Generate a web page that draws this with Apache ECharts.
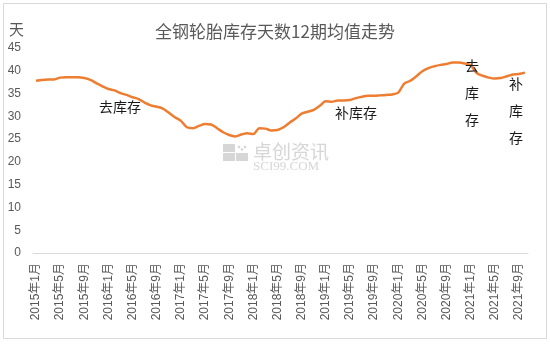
<!DOCTYPE html>
<html>
<head>
<meta charset="utf-8">
<script src="https://cdn.jsdelivr.net/npm/echarts@6/dist/echarts.min.js"></script>
<style>
  html, body { margin: 0; padding: 0; background: #fff; }
  #chart { width: 550px; height: 345px; }
</style>
</head>
<body>
<div id="chart"></div>
<script>
// Monthly categories, Jan 2015 – Oct 2021
const months = [];
for (let y = 2015; y <= 2021; y++) {
  for (let m = 1; m <= 12; m++) {
    if (y === 2021 && m > 10) break;
    months.push(y + '年' + m + '月');
  }
}

// 12-period moving average of all-steel tyre inventory days
const inventoryDays = [
  37.8, 38.0, 38.1, 38.1, 38.5, 38.6, 38.6, 38.6, 38.4, 38.0, 37.3, 36.6,
  36.0, 35.7, 35.1, 34.7, 34.2, 33.8, 33.0, 32.4, 32.1, 31.7, 30.8, 29.8,
  29.0, 27.6, 27.4, 27.9, 28.3, 28.2, 27.4, 26.5, 25.9, 25.6, 26.0, 26.3,
  26.1, 27.4, 27.3, 26.9, 27.0, 27.6, 28.6, 29.5, 30.6, 31.0, 31.4, 32.3,
  33.3, 33.2, 33.5, 33.5, 33.6, 34.0, 34.3, 34.5, 34.5, 34.6, 34.7, 34.8,
  35.2, 37.2, 37.8, 38.8, 39.9, 40.6, 41.0, 41.3, 41.5, 41.8, 41.8, 41.6,
  41.2, 39.5, 38.9, 38.5, 38.3, 38.4, 38.8, 39.2, 39.3, 39.6
];

// Y-axis scale
const yMin = 0, yMax = 45, yStep = 5;

const titleText = '全钢轮胎库存天数12期均值走势';
const unitText = '天';

const textColor = '#595959';
const cjkFont = '"Noto Sans CJK SC", "Noto Sans", sans-serif';

const chart = echarts.init(document.getElementById('chart'));

const note = (text, x, y) => ({
  type: 'text', left: x, top: y, z: 10,
  style: { text: text, fill: '#1a1a1a', font: '14px ' + cjkFont, lineHeight: 27 }
});

chart.setOption({
  animation: false,
  title: {
    text: titleText,
    left: 'center',
    top: 18,
    textStyle: { color: textColor, fontSize: 17, fontWeight: 'normal', fontFamily: cjkFont }
  },
  grid: { left: 33, right: 22, top: 48, bottom: 92 },
  xAxis: {
    type: 'category',
    data: months,
    boundaryGap: true,
    axisLine: { lineStyle: { color: '#d9d9d9', width: 1 } },
    axisTick: { interval: 3, length: 4, lineStyle: { color: '#d9d9d9' } },
    axisLabel: {
      interval: 3, rotate: 90, color: textColor, fontSize: 12,
      fontFamily: 'Liberation Sans, ' + cjkFont, margin: 10
    }
  },
  yAxis: {
    type: 'value',
    min: yMin, max: yMax, interval: yStep,
    axisLine: { show: false },
    axisTick: { show: false },
    splitLine: { show: false },
    axisLabel: { color: textColor, fontSize: 12, margin: 12, fontFamily: 'Liberation Sans, sans-serif' }
  },
  series: [{
    type: 'line',
    data: inventoryDays,
    smooth: 0.3,
    showSymbol: false,
    lineStyle: { color: '#ED7D31', width: 2.5 },
    itemStyle: { color: '#ED7D31' }
  }],
  graphic: [
    // outer frame
    { type: 'rect', shape: { x: 3.5, y: 3.5, width: 543, height: 335 },
      style: { fill: 'none', stroke: '#d9d9d9', lineWidth: 1 }, z: -1 },
    // unit label
    { type: 'text', left: 9, top: 22,
      style: { text: unitText, fill: textColor, font: '15px ' + cjkFont } },
    // watermark logo
    { type: 'group', left: 223, top: 142, z: 0, children: [
      { type: 'rect', shape: { x: 0, y: 0, width: 12, height: 8 }, style: { fill: '#d6d6d6' } },
      { type: 'rect', shape: { x: 0, y: 9, width: 12, height: 8 }, style: { fill: '#d6d6d6' } },
      { type: 'rect', shape: { x: 13, y: 9, width: 12, height: 8 }, style: { fill: '#d6d6d6' } },
      { type: 'circle', shape: { cx: 16, cy: 3, r: 1.3 }, style: { fill: '#d6d6d6' } },
      { type: 'circle', shape: { cx: 22, cy: 3, r: 1.3 }, style: { fill: '#d6d6d6' } },
      { type: 'circle', shape: { cx: 19, cy: 5.5, r: 1.3 }, style: { fill: '#d6d6d6' } },
      { type: 'text', x: 30, y: -2,
        style: { text: '卓创资讯', fill: '#d6d6d6', font: '19px ' + cjkFont } },
      { type: 'text', x: 30, y: 16,
        style: { text: 'SCI99.COM', fill: '#d6d6d6', font: '13px "Liberation Serif", serif' } }
    ]},
    // phase annotations
    note('去库存', 99, 93),
    note('补库存', 335, 99),
    note('去\n库\n存', 465, 52),
    note('补\n库\n存', 509, 70)
  ]
});
</script>
</body>
</html>
